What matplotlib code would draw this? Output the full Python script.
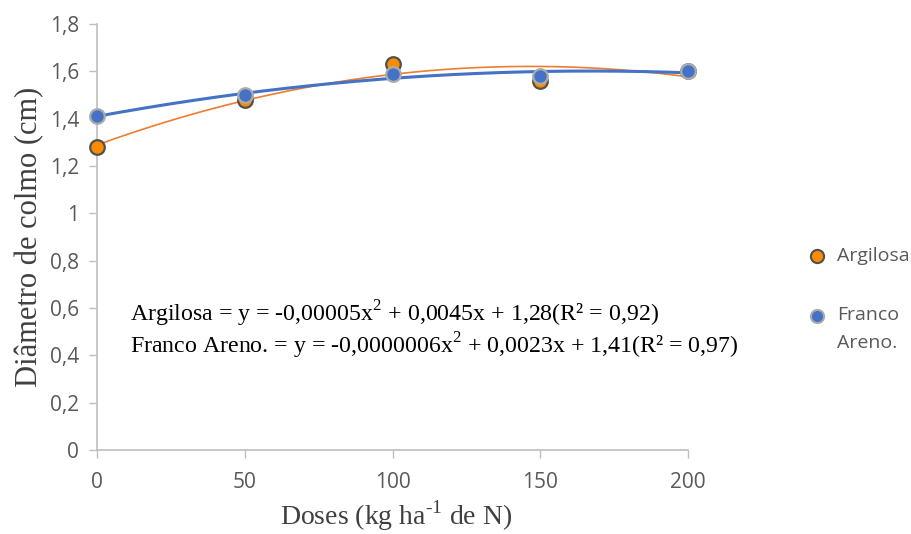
import numpy as np
import matplotlib.pyplot as plt
from matplotlib.lines import Line2D

doses = [0, 50, 100, 150, 200]
argilosa = [1.28, 1.48, 1.63, 1.56, 1.60]
franco = [1.41, 1.50, 1.59, 1.58, 1.60]

y_ticks = [0, 0.2, 0.4, 0.6, 0.8, 1.0, 1.2, 1.4, 1.6, 1.8]
y_tick_labels = ['0', '0,2', '0,4', '0,6', '0,8', '1', '1,2', '1,4', '1,6', '1,8']
x_ticks = [0, 50, 100, 150, 200]

eq_text = ("Argilosa = y = -0,00005x$^{2}$ + 0,0045x + 1,28(R² = 0,92)\n"
           "Franco Areno. = y = -0,0000006x$^{2}$ + 0,0023x + 1,41(R² = 0,97)")

orange = '#FB8C00'
blue = '#4472C4'
gray = '#595959'
serif = ['Liberation Serif', 'DejaVu Serif']

plt.rcParams['mathtext.fontset'] = 'custom'
plt.rcParams['mathtext.rm'] = 'Liberation Serif'

fig = plt.figure(figsize=(9.11, 5.34), dpi=100)
ax = fig.add_axes([0.1065, 0.1573, 0.6487, 0.7978])

# linhas de tendencia (polinomial de 2a ordem, como no Excel)
xx = np.linspace(0, 200, 300)
c_arg = np.polyfit(doses, argilosa, 2)
c_fra = np.polyfit(doses, franco, 2)
ax.plot(xx, np.polyval(c_arg, xx), color='#ED7D31', lw=1.2, zorder=2)
ax.plot(xx, np.polyval(c_fra, xx), color=blue, lw=2.2, zorder=2)

ax.plot(doses, argilosa, 'o', ms=10.5, mfc=orange, mec='#505050', mew=1.6,
        zorder=3, clip_on=False)
ax.plot(doses, franco, 'o', ms=10.5, mfc=blue, mec='#ABABAB', mew=1.6,
        zorder=4, clip_on=False)

ax.set_xlim(0, 200)
ax.set_ylim(0, 1.8)
ax.set_xticks(x_ticks)
ax.set_yticks(y_ticks)
ax.set_yticklabels(y_tick_labels)
ax.tick_params(colors='#BFBFBF', labelcolor=gray, labelsize=15, length=6,
               width=1, labelfontfamily='Open Sans')
ax.tick_params(axis='x', pad=10)
ax.tick_params(axis='y', pad=7)
for s in ['top', 'right']:
    ax.spines[s].set_visible(False)
for s in ['left', 'bottom']:
    ax.spines[s].set_color('#BFBFBF')
    ax.spines[s].set_linewidth(1.2)

# rotulo do eixo x posicionado direto para nao sair da figura
fig.text(396 / 911, 1 - 516 / 534, 'Doses (kg ha$^{\\text{-}1}$ de N)',
         fontsize=20, family=serif, color='#404040', ha='center', va='center')
ax.set_ylabel('Diâmetro de colmo (cm)', fontsize=22, family=serif,
              color='#404040', labelpad=4)

ax.text(0.055, 0.355, eq_text, transform=ax.transAxes, fontsize=17.2,
        family=serif, va='top', linespacing=1.05)

# legenda
leg_x = 817 / 911
fig.add_artist(Line2D([leg_x], [1 - 256 / 534], marker='o', ms=9.5,
                      mfc=orange, mec='#505050', mew=1.5,
                      transform=fig.transFigure))
fig.add_artist(Line2D([leg_x], [1 - 316 / 534], marker='o', ms=9.5,
                      mfc=blue, mec='#ABABAB', mew=1.5,
                      transform=fig.transFigure))
fig.text(0.919, 1 - 256 / 534, 'Argilosa', va='center', fontsize=14,
         family='Open Sans', color=gray)
fig.text(0.919, 1 - 306 / 534, 'Franco\nAreno.', va='top', fontsize=14,
         family='Open Sans', color=gray, linespacing=1.75)

fig.savefig('out.png', dpi=100)
